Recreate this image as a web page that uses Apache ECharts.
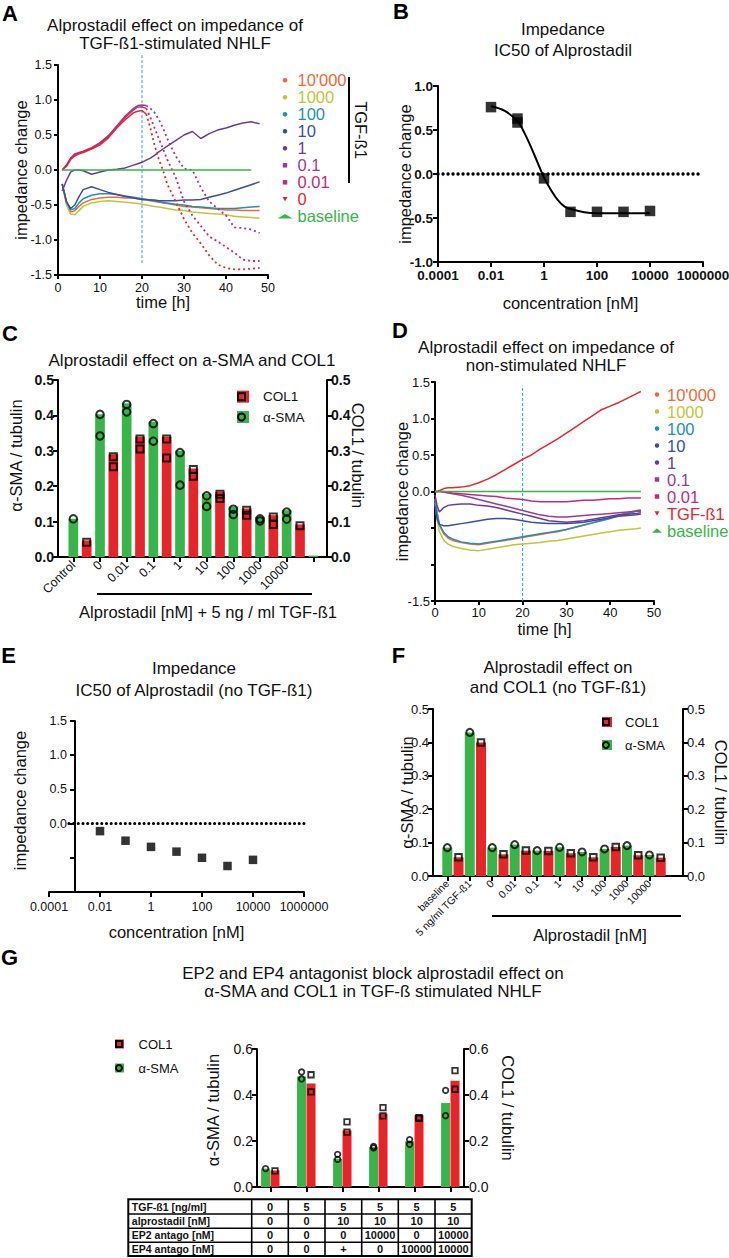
<!DOCTYPE html>
<html>
<head>
<meta charset="utf-8">
<title>Alprostadil effect figure</title>
<script src="https://cdn.jsdelivr.net/npm/echarts@6.0.0/dist/echarts.min.js"></script>
<style>
html, body { margin:0; padding:0; background:#ffffff; }
#chart { width:729px; height:1258px; }
</style>
</head>
<body>
<div id="chart"></div>
<script>
// ================= DATA =================
// ---- Panel A : impedance, TGF-ß1-stimulated NHLF ----
const aNames = ["10'000", '1000', '100', '10', '1', '0.1', '0.01', '0', 'baseline'];
const aTime = [1,2,3,4,5,6,8,10,12,14,16,18,19,20,21,22,23,24,25,26,28,30,32,34,36,38,40,42,44,46,48];
const a10000 = [-0.2,-0.45,-0.6,-0.58,-0.52,-0.47,-0.42,-0.4,-0.39,-0.39,-0.4,-0.4,-0.41,-0.42,-0.43,-0.44,-0.45,-0.46,-0.47,-0.48,-0.5,-0.52,-0.53,-0.54,-0.55,-0.56,-0.57,-0.57,-0.58,-0.58,-0.58];
const a1000  = [-0.2,-0.5,-0.63,-0.64,-0.58,-0.52,-0.47,-0.45,-0.44,-0.45,-0.46,-0.47,-0.48,-0.49,-0.5,-0.51,-0.52,-0.53,-0.54,-0.55,-0.57,-0.58,-0.6,-0.61,-0.62,-0.63,-0.64,-0.66,-0.67,-0.68,-0.69];
const a100   = [-0.2,-0.45,-0.57,-0.55,-0.47,-0.41,-0.36,-0.34,-0.34,-0.35,-0.37,-0.39,-0.4,-0.41,-0.42,-0.43,-0.44,-0.45,-0.46,-0.47,-0.49,-0.5,-0.52,-0.53,-0.54,-0.55,-0.55,-0.55,-0.54,-0.53,-0.52];
const a10    = [-0.2,-0.45,-0.55,-0.5,-0.38,-0.28,-0.24,-0.28,-0.32,-0.35,-0.38,-0.4,-0.41,-0.42,-0.42,-0.43,-0.43,-0.44,-0.44,-0.44,-0.44,-0.43,-0.43,-0.42,-0.39,-0.36,-0.33,-0.29,-0.25,-0.21,-0.17];
const a1     = [-0.3,-0.15,-0.03,0,0,-0.01,-0.06,-0.03,0,0.01,0.03,0.07,0.09,0.11,0.14,0.17,0.21,0.26,0.3,0.34,0.42,0.5,0.55,0.45,0.52,0.57,0.6,0.64,0.67,0.69,0.66];
const a01    = [0,0.07,0.17,0.23,0.25,0.27,0.32,0.39,0.49,0.63,0.77,0.88,0.92,0.93,0.92,0.88,0.82,0.72,0.6,0.45,0.2,0.02,0,-0.25,-0.45,-0.55,-0.65,-0.82,-0.83,-0.85,-0.9];
const a001   = [0,0.06,0.16,0.22,0.24,0.26,0.31,0.38,0.48,0.62,0.75,0.86,0.9,0.9,0.88,0.75,0.6,0.45,0.3,0.15,-0.1,-0.45,-0.65,-0.8,-0.95,-1.02,-1.1,-1.18,-1.28,-1.3,-1.3];
const a0     = [0,0.05,0.15,0.2,0.23,0.25,0.3,0.36,0.46,0.6,0.72,0.82,0.84,0.85,0.8,0.6,0.35,0.15,0,-0.2,-0.45,-0.7,-0.9,-1.05,-1.22,-1.35,-1.4,-1.42,-1.42,-1.41,-1.4];
const aBase  = [0,0,0,0,0,0,0,0,0,0,0,0,0,0,0,0,0,0,0,0,0,0,0,0,0,0,0,0,0,0,null];
const aMarker = [[20,-1.33],[20,1.64]];
const aDropStart = 21;   // after this time the collapsing curves are drawn as sparse dots

// ---- Panel B : IC50 ----
const bConc = [0.01, 0.1, 0.1, 1, 10, 100, 1000, 10000];
const bVal  = [0.76, 0.63, 0.585, -0.05, -0.43, -0.43, -0.43, -0.42];
const bFitConc = [0.01, 0.032, 0.1, 0.18, 0.33, 0.59, 1, 1.9, 3.4, 6, 14, 33, 100, 1000, 10000];
const bFitVal  = [0.77, 0.72, 0.6, 0.47, 0.3, 0.12, -0.04, -0.19, -0.3, -0.37, -0.41, -0.435, -0.445, -0.445, -0.445];
const bZero = [[0.0001,0],[1000000,0]];

// ---- Panel C : a-SMA and COL1 with TGF-ß1 ----
const cCategories = ['Control','0','0.01','0.1','1','10','100','1000','10000',''];
const cSMA  = [0.108,0.403,0.434,0.382,0.300,0.179,0.142,0.113,0.132,0.004];
const cCOL1 = [0.047,0.290,0.340,0.340,0.250,0.184,0.137,0.118,0.092,null];
const cSMApts  = [[0.108],[0.403,0.342],[0.431,0.410],[0.377,0.327],[0.295,0.203],[0.173,0.143],[0.135,0.120],[0.108,0.102],[0.127,0.107],[]];
const cCOL1pts = [[0.042],[0.283,0.255],[0.333,0.305],[0.333,0.280],[0.247,0.228],[0.177,0.165],[0.132,0.118],[0.113,0.092],[0.088],[]];

// ---- Panel D : impedance, non-stimulated NHLF ----
const dNames = ["10'000", '1000', '100', '10', '1', '0.1', '0.01', 'TGF-ß1', 'baseline'];
const dTime = [0,0.5,1,2,3,4,6,8,10,12,14,16,18,20,22,24,26,28,30,32,34,36,38,40,42,44,46,47];
const d10000 = [-0.1,-0.3,-0.46,-0.58,-0.64,-0.67,-0.7,-0.72,-0.73,-0.71,-0.69,-0.67,-0.65,-0.63,-0.61,-0.59,-0.57,-0.55,-0.52,-0.49,-0.46,-0.43,-0.39,-0.36,-0.32,-0.29,-0.26,-0.25];
const d1000  = [-0.15,-0.4,-0.55,-0.67,-0.72,-0.75,-0.78,-0.8,-0.81,-0.79,-0.77,-0.75,-0.73,-0.72,-0.71,-0.7,-0.68,-0.67,-0.65,-0.63,-0.61,-0.59,-0.57,-0.55,-0.53,-0.52,-0.51,-0.5];
const d100   = [-0.1,-0.3,-0.45,-0.56,-0.62,-0.65,-0.69,-0.71,-0.72,-0.7,-0.68,-0.66,-0.64,-0.62,-0.6,-0.58,-0.56,-0.54,-0.52,-0.49,-0.46,-0.43,-0.4,-0.37,-0.33,-0.3,-0.27,-0.26];
const d10    = [-0.2,-0.38,-0.45,-0.47,-0.47,-0.46,-0.44,-0.42,-0.4,-0.38,-0.37,-0.37,-0.38,-0.4,-0.42,-0.43,-0.44,-0.44,-0.44,-0.43,-0.42,-0.4,-0.38,-0.36,-0.34,-0.33,-0.32,-0.31];
const d1     = [-0.05,-0.2,-0.28,-0.22,-0.19,-0.18,-0.17,-0.17,-0.19,-0.2,-0.22,-0.25,-0.28,-0.31,-0.34,-0.37,-0.4,-0.41,-0.42,-0.41,-0.4,-0.38,-0.36,-0.34,-0.32,-0.31,-0.3,-0.29];
const d01    = [0,0,0,-0.01,-0.02,-0.03,-0.05,-0.08,-0.11,-0.14,-0.17,-0.2,-0.23,-0.26,-0.29,-0.32,-0.34,-0.35,-0.35,-0.34,-0.33,-0.32,-0.31,-0.3,-0.29,-0.28,-0.27,-0.27];
const d001   = [0,0,0,0,-0.01,-0.02,-0.03,-0.04,-0.05,-0.06,-0.07,-0.09,-0.1,-0.11,-0.13,-0.14,-0.14,-0.14,-0.14,-0.13,-0.12,-0.12,-0.11,-0.1,-0.1,-0.09,-0.09,-0.09];
const dTGF   = [0,0,0.01,0.04,0.05,0.05,0.06,0.08,0.12,0.17,0.23,0.3,0.37,0.44,0.5,0.58,0.65,0.72,0.8,0.88,0.96,1.04,1.12,1.17,1.22,1.28,1.34,1.37];
const dBase  = [0,0,0,0,0,0,0,0,0,0,0,0,0,0,0,0,0,0,0,0,0,0,0,0,0,0,0,0];
const dMarker = [[20,-1.5],[20,1.45]];

// ---- Panel E : IC50 without TGF-ß1 ----
const eConc = [0.01, 0.1, 1, 10, 100, 1000, 10000];
const eVal  = [-0.11, -0.25, -0.34, -0.41, -0.5, -0.62, -0.53];
const eZero = [[0.0006,0],[1700000,0]];

// ---- Panel F : a-SMA and COL1 without TGF-ß1 ----
const fCategories = ['baseline','5 ng/ml TGF-ß1','0','0.01','0.1','1','10','100','1000','10000'];
const fSMA  = [0.085,0.430,0.085,0.094,0.076,0.086,0.072,0.081,0.091,0.063];
const fCOL1 = [0.056,0.400,0.065,0.076,0.075,0.068,0.056,0.087,0.062,0.055];

// ---- Panel G : EP2 / EP4 antagonists ----
const gGroups = ['G1','G2','G3','G4','G5','G6'];
const gSMA  = [0.080,0.480,0.123,0.174,0.199,0.365];
const gCOL1 = [0.072,0.450,0.246,0.319,0.312,0.462];
const gSMApts  = [[0.080],[0.500,0.470],[0.142,0.120],[0.176,0.170],[0.206,0.186],[0.420,0.310]];
const gCOL1pts = [[0.070],[0.488,0.414],[0.283,0.239],[0.345,0.309],[0.301,0.298],[0.506,0.425]];
const gTableRows = ['TGF-ß1 [ng/ml]','alprostadil [nM]','EP2 antago [nM]','EP4 antago [nM]'];
const gTableValues = [
  ['0','5','5','5','5','5'],
  ['0','0','10','10','10','10'],
  ['0','0','0','10000','0','10000'],
  ['0','0','+','0','10000','10000']
];

// ---- tick labels ----
const timeTicks = ['0','10','20','30','40','50'];
const impTicksA = ['-1.5','-1.0','-0.5','0.0','0.5','1.0','1.5'];
const impTicksB = ['-1.0','-0.5','0.0','0.5','1.0'];
const impTicksD = ['-1.5','','','0.0','0.5','1.0','1.5'];
const impTicksE = ['','','0.0','0.5','1.0','1.5'];
const concTicks = ['0.0001','0.01','1','100','10000','1000000'];
const ratioTicks05 = ['0.0','0.1','0.2','0.3','0.4','0.5'];
const ratioTicks06 = ['0.0','0.2','0.4','0.6'];

// ================= STYLE / LAYOUT =================
const FONT = '"Liberation Sans", Arial, Helvetica, sans-serif';
const INK = '#111111';
const GREEN = '#37b44a', RED = '#e8232a';
const SQUARE = 'path://M0,0L10,0L10,10L0,10Z';
const lineColors = ['#f26a36','#c2c43c','#2290b3','#3b4f9f','#6c3b95','#9a3d9a','#c42b78','#e8262b','#39b54a'];
const legendIcons = ['circle','circle','circle','circle','circle',SQUARE,SQUARE,'path://M0,0L10,0L5,9Z','triangle'];
const DASH_COLOR = '#2aa3c4';
const NAME_FS = 16.5;

function merge(a, b) {
  const out = Object.assign({}, a);
  for (const k in b) {
    const bv = b[k], av = a[k];
    if (bv && typeof bv === 'object' && !Array.isArray(bv) && av && typeof av === 'object' && !Array.isArray(av)) out[k] = merge(av, bv);
    else out[k] = bv;
  }
  return out;
}
const tickFmt = (labels, min, step) => v => { const s = labels[Math.round((v - min) / step)]; return s == null ? '' : s; };
const logFmt = labels => v => { const s = labels[Math.round(Math.log10(v) / 2) + 2]; return s == null ? '' : s; };

function valAxis(o) {
  return merge({
    type: 'value', splitLine: {show: false}, nameMoveOverlap: false,
    axisLine: {show: true, onZero: false, lineStyle: {color: '#000', width: 2}},
    axisTick: {show: true, length: 5, lineStyle: {color: '#000', width: 2}},
    axisLabel: {color: INK, fontSize: 12, fontFamily: FONT, margin: 6},
    nameTextStyle: {color: INK, fontSize: NAME_FS, fontFamily: FONT},
    nameLocation: 'middle'
  }, o);
}
function lineOnlyX(grid) {
  return {type: 'value', gridIndex: grid, min: 0, max: 1, splitLine: {show: false},
    axisLine: {show: true, onZero: false, lineStyle: {color: '#000', width: 2}},
    axisTick: {show: false}, axisLabel: {show: false}};
}
function hiddenY(grid, max) { return {type: 'value', gridIndex: grid, min: 0, max: max, show: false}; }
function GRID(left, top, width, height) { return {left, top, width, height, containLabel: false, outerBoundsMode: 'none'}; }

function columnize(cats, greens, reds) {
  const keys = [], labels = [], g = [], r = [], gIdx = [], rIdx = [];
  cats.forEach((c, i) => {
    gIdx.push(keys.length); keys.push('g' + i); labels.push(c); g.push(greens[i]); r.push(null);
    if (reds[i] != null) { rIdx.push(keys.length); keys.push('r' + i); labels.push(''); g.push(null); r.push(reds[i]); }
    else rIdx.push(null);
  });
  return {keys, labels, g, r, gIdx, rIdx};
}
function pts(idx, lists) {
  const out = [];
  lists.forEach((list, i) => (list || []).forEach(v => { if (idx[i] != null) out.push([idx[i], v]); }));
  return out;
}
const colC = columnize(cCategories, cSMA, cCOL1);
const colF = columnize(fCategories, fSMA, fCOL1);
const fSMApts = fSMA.map(v => [v]);
const fCOL1pts = fCOL1.map(v => [v]);

function pairs(times, vals, lo, hi) {
  return times.map((t, i) => [t, vals[i]]).filter(p => p[1] != null && p[0] >= lo && p[0] <= hi);
}
function lineSeries(name, data, color, xi, yi, dashed) {
  return {type: 'line', name, xAxisIndex: xi, yAxisIndex: yi, data,
    showSymbol: false, color, itemStyle: {color}, z: 2,
    lineStyle: dashed ? {color, width: 1.8, type: [2, 3]} : {color, width: 1.5}};
}
function dashSeries(data, xi, yi) {
  return {type: 'line', name: 'marker', xAxisIndex: xi, yAxisIndex: yi, data, showSymbol: false, clip: false, silent: true,
    lineStyle: {color: DASH_COLOR, width: 1, type: [3, 2]}, z: 1};
}
const hollow = {color: 'rgba(0,0,0,0)', borderColor: '#000', borderWidth: 2};

// ================= AXES =================
const xAxes = [
  valAxis({gridIndex: 0, min: 0, max: 50, interval: 10, name: 'time [h]', nameGap: 18, axisTick: {length: 4},
    axisLabel: {fontSize: 12.5, formatter: tickFmt(timeTicks, 0, 10)}}),
  valAxis({type: 'log', logBase: 100, gridIndex: 1, min: 0.0001, max: 1000000, name: 'concentration [nM]', nameGap: 32,
    minorTick: {show: false},
    axisLabel: {fontWeight: 'bold', fontSize: 13.5, margin: 6, formatter: logFmt(concTicks)}}),
  lineOnlyX(2),
  {type: 'category', gridIndex: 3, data: colC.keys, splitLine: {show: false}, axisLine: {show: false},
    axisTick: {show: true, alignWithLabel: true, length: 5, interval: i => i % 2 === 0, lineStyle: {color: '#000', width: 2}},
    axisLabel: {interval: 0, rotate: 45, fontSize: 12.5, color: INK, margin: 6, fontFamily: FONT, formatter: (v, i) => colC.labels[i]}},
  valAxis({gridIndex: 4, min: 0, max: 50, interval: 10, name: 'time [h]', nameGap: 19, axisTick: {length: 4},
    axisLabel: {fontSize: 13, margin: 5, formatter: tickFmt(timeTicks, 0, 10)}}),
  valAxis({type: 'log', logBase: 100, gridIndex: 5, min: 0.0001, max: 1000000, name: 'concentration [nM]', nameGap: 31,
    minorTick: {show: false},
    axisLabel: {fontSize: 12.5, margin: 8, formatter: logFmt(concTicks)}}),
  lineOnlyX(6),
  {type: 'category', gridIndex: 7, data: colF.keys, splitLine: {show: false}, axisLine: {show: false},
    axisTick: {show: true, alignWithLabel: true, length: 5, interval: i => i % 2 === 0, lineStyle: {color: '#000', width: 2}},
    axisLabel: {interval: 0, rotate: 45, fontSize: 10.5, color: INK, margin: 6, fontFamily: FONT, formatter: (v, i) => colF.labels[i]}},
  lineOnlyX(8),
  {type: 'category', gridIndex: 9, data: gGroups, splitLine: {show: false}, axisLine: {show: false},
    axisTick: {show: true, alignWithLabel: true, length: 5, lineStyle: {color: '#000', width: 2}},
    axisLabel: {show: false}}
];

const yAxes = [
  valAxis({gridIndex: 0, min: -1.5, max: 1.5, interval: 0.5, name: 'impedance change', nameRotate: 90, nameGap: 29,
    axisTick: {length: 4}, axisLabel: {fontSize: 12.5, formatter: tickFmt(impTicksA, -1.5, 0.5)}}),
  valAxis({gridIndex: 1, min: -1, max: 1, interval: 0.5, name: 'impedance change', nameRotate: 90, nameGap: 25,
    axisLabel: {fontWeight: 'bold', fontSize: 13.5, margin: 5, formatter: tickFmt(impTicksB, -1, 0.5)}}),
  valAxis({gridIndex: 2, min: 0, max: 0.5, interval: 0.1, name: 'α-SMA / tubulin', nameRotate: 90, nameGap: 34,
    nameTextStyle: {padding: [0, 0, 0, 26]},
    axisLabel: {fontWeight: 'bold', fontSize: 14, margin: 4, formatter: tickFmt(ratioTicks05, 0, 0.1)}}),
  valAxis({gridIndex: 2, position: 'right', min: 0, max: 0.5, interval: 0.1, name: 'COL1 / tubulin', nameRotate: -90, nameGap: 22,
    nameTextStyle: {padding: [0, 26, 0, 0]},
    axisLabel: {fontWeight: 'bold', fontSize: 14, margin: 4, formatter: tickFmt(ratioTicks05, 0, 0.1)}}),
  hiddenY(3, 0.5),
  valAxis({gridIndex: 4, min: -1.5, max: 1.5, interval: 0.5, name: 'impedance change', nameRotate: 90, nameGap: 25,
    axisTick: {length: 4}, axisLabel: {fontSize: 13, margin: 5, formatter: tickFmt(impTicksD, -1.5, 0.5)}}),
  valAxis({gridIndex: 5, min: -1, max: 1.5, interval: 0.5, offset: -26, name: 'impedance change', nameRotate: 90, nameGap: 47,
    nameTextStyle: {padding: [0, 0, 0, 12]},
    axisLabel: {fontSize: 12.5, margin: 8, formatter: tickFmt(impTicksE, -1, 0.5)}}),
  valAxis({gridIndex: 6, min: 0, max: 0.5, interval: 0.1, name: 'α-SMA / tubulin', nameRotate: 90, nameGap: 18,
    axisLabel: {fontSize: 13, margin: 4, formatter: tickFmt(ratioTicks05, 0, 0.1)}}),
  valAxis({gridIndex: 6, position: 'right', min: 0, max: 0.5, interval: 0.1, name: 'COL1 / tubulin', nameRotate: -90, nameGap: 29,
    axisLabel: {fontSize: 13, margin: 4, formatter: tickFmt(ratioTicks05, 0, 0.1)}}),
  hiddenY(7, 0.5),
  valAxis({gridIndex: 8, min: 0, max: 0.6, interval: 0.2, name: 'α-SMA / tubulin', nameRotate: 90, nameGap: 36,
    nameTextStyle: {padding: [0, 0, 0, 16]},
    axisLabel: {fontSize: 14, margin: 4, formatter: tickFmt(ratioTicks06, 0, 0.2)}}),
  valAxis({gridIndex: 8, position: 'right', min: 0, max: 0.6, interval: 0.2, name: 'COL1 / tubulin', nameRotate: -90, nameGap: 35,
    nameTextStyle: {padding: [0, 20, 0, 0]},
    axisLabel: {fontSize: 14, margin: 5, formatter: tickFmt(ratioTicks06, 0, 0.2)}}),
  hiddenY(9, 0.6)
];

// ================= SERIES =================
const series = [];
const aValues = [a10000, a1000, a100, a10, a1, a01, a001, a0, aBase];
const aCollapsing = ['0.1', '0.01', '0'];
aNames.forEach((n, i) => {
  if (aCollapsing.indexOf(n) >= 0) {
    series.push(lineSeries(n, pairs(aTime, aValues[i], 0, aDropStart), lineColors[i], 0, 0, false));
    series.push(lineSeries(n + ' (late)', pairs(aTime, aValues[i], aDropStart, 50), lineColors[i], 0, 0, true));
  } else {
    series.push(lineSeries(n, pairs(aTime, aValues[i], 0, 50), lineColors[i], 0, 0, false));
  }
});
series.push(dashSeries(aMarker, 0, 0));

series.push({type: 'line', name: 'zero B', xAxisIndex: 1, yAxisIndex: 1, data: bZero, showSymbol: false, silent: true, clip: false,
  lineStyle: {color: '#000', width: 3.3, type: [0.1, 4.9], cap: 'round'}, z: 1});
series.push({type: 'line', name: 'fit B', xAxisIndex: 1, yAxisIndex: 1, data: bFitConc.map((c, i) => [c, bFitVal[i]]),
  smooth: 0.35, showSymbol: false, lineStyle: {color: '#000', width: 2}, z: 2});
series.push({type: 'scatter', name: 'points B', xAxisIndex: 1, yAxisIndex: 1, data: bConc.map((c, i) => [c, bVal[i]]),
  symbol: 'rect', symbolSize: 10.5, itemStyle: {color: '#000'}, z: 3});

series.push({type: 'bar', name: 'α-SMA', xAxisIndex: 3, yAxisIndex: 4, data: colC.g, barWidth: 9.7, barGap: '-100%', itemStyle: {color: GREEN}});
series.push({type: 'bar', name: 'COL1', xAxisIndex: 3, yAxisIndex: 4, data: colC.r, barWidth: 9.7, barGap: '-100%', itemStyle: {color: RED}});
series.push({type: 'scatter', name: 'α-SMA points C', xAxisIndex: 3, yAxisIndex: 4, data: pts(colC.gIdx, cSMApts),
  symbol: 'circle', symbolSize: 7.5, itemStyle: hollow, z: 4});
series.push({type: 'scatter', name: 'COL1 points C', xAxisIndex: 3, yAxisIndex: 4, data: pts(colC.rIdx, cCOL1pts),
  symbol: 'rect', symbolSize: 7, itemStyle: hollow, z: 4});

const dValues = [d10000, d1000, d100, d10, d1, d01, d001, dTGF, dBase];
dNames.forEach((n, i) => series.push(lineSeries(n, pairs(dTime, dValues[i], 0, 50), lineColors[i], 4, 5, false)));
series.push(dashSeries(dMarker, 4, 5));

series.push({type: 'line', name: 'zero E', xAxisIndex: 5, yAxisIndex: 6, data: eZero, showSymbol: false, silent: true, clip: false,
  lineStyle: {color: '#000', width: 3, type: [0.1, 4.6], cap: 'round'}, z: 1});
series.push({type: 'scatter', name: 'points E', xAxisIndex: 5, yAxisIndex: 6, data: eConc.map((c, i) => [c, eVal[i]]),
  symbol: 'rect', symbolSize: 8.5, itemStyle: {color: '#000'}, z: 3});

series.push({type: 'bar', name: 'α-SMA', xAxisIndex: 7, yAxisIndex: 9, data: colF.g, barWidth: 10, barGap: '-100%', itemStyle: {color: GREEN}});
series.push({type: 'bar', name: 'COL1', xAxisIndex: 7, yAxisIndex: 9, data: colF.r, barWidth: 10, barGap: '-100%', itemStyle: {color: RED}});
series.push({type: 'scatter', name: 'α-SMA points F', xAxisIndex: 7, yAxisIndex: 9, data: pts(colF.gIdx, fSMApts),
  symbol: 'circle', symbolSize: 7, itemStyle: hollow, z: 4});
series.push({type: 'scatter', name: 'COL1 points F', xAxisIndex: 7, yAxisIndex: 9, data: pts(colF.rIdx, fCOL1pts),
  symbol: 'rect', symbolSize: 6.5, itemStyle: hollow, z: 4});

const gIdx = gGroups.map((g, i) => i);
series.push({type: 'bar', name: 'α-SMA', xAxisIndex: 9, yAxisIndex: 12, data: gSMA, barWidth: 9, barGap: '5%', itemStyle: {color: GREEN}});
series.push({type: 'bar', name: 'COL1', xAxisIndex: 9, yAxisIndex: 12, data: gCOL1, barWidth: 9, barGap: '5%', itemStyle: {color: RED}});
series.push({type: 'scatter', name: 'α-SMA points G', xAxisIndex: 9, yAxisIndex: 12, data: pts(gIdx, gSMApts),
  symbol: 'circle', symbolSize: 5.5, symbolOffset: [-4.7, 0], itemStyle: merge(hollow, {borderWidth: 1.8}), z: 4});
series.push({type: 'scatter', name: 'COL1 points G', xAxisIndex: 9, yAxisIndex: 12, data: pts(gIdx, gCOL1pts),
  symbol: 'rect', symbolSize: 5.5, symbolOffset: [4.7, 0], itemStyle: merge(hollow, {borderWidth: 1.8}), z: 4});

// ================= LEGENDS =================
function lineLegend(names, left, top, iw, pitch) {
  return {orient: 'vertical', left, top, padding: 0, itemGap: 0, itemWidth: iw, itemHeight: 4.5, selectedMode: false,
    itemStyle: {borderWidth: 0}, symbolKeepAspect: true,
    textStyle: {fontSize: 16.5, lineHeight: pitch, fontFamily: FONT},
    data: names.map((n, i) => ({name: n, icon: legendIcons[i], textStyle: {color: lineColors[i]}}))};
}
function barLegends(left, top, iw, ih, ihMark, gap, fs) {
  const base = {orient: 'vertical', left, top, padding: 0, itemGap: gap, itemWidth: iw, itemHeight: ih, selectedMode: false,
    itemStyle: {borderWidth: 0}, symbolKeepAspect: true, textStyle: {fontSize: fs, lineHeight: 14, color: INK, fontFamily: FONT},
    data: [{name: 'COL1', icon: SQUARE}, {name: 'α-SMA', icon: SQUARE}]};
  const over = {orient: 'vertical', left, top, padding: 0, itemGap: gap, itemWidth: iw, itemHeight: ihMark, selectedMode: false, z: 6,
    symbolKeepAspect: true,
    textStyle: {fontSize: fs, lineHeight: 14, color: INK, fontFamily: FONT}, formatter: () => ' ',
    data: [{name: 'COL1', icon: SQUARE, itemStyle: hollow}, {name: 'α-SMA', icon: 'circle', itemStyle: hollow}]};
  return [base, over];
}
const legends = [
  lineLegend(aNames, 277.5, 71.8, 15, 16.3),
  lineLegend(dNames, 652, 386, 10, 16.1)
].concat(barLegends(237, 389.7, 30, 12, 7, 6.3, 13.5))
 .concat(barLegends(602, 715, 26, 10, 6, 9, 13))
 .concat(barLegends(115, 1037, 28, 9, 6, 10, 13));

// ================= TITLES =================
function ttl(text, x, top, lh) {
  return {text, left: x, top, textAlign: 'center', padding: 0, itemGap: 0,
    textStyle: {fontSize: 17, fontWeight: 'normal', color: INK, lineHeight: lh, fontFamily: FONT}};
}
const titles = [
  ttl('Alprostadil effect on impedance of\nTGF-ß1-stimulated NHLF', 175, 16, 18),
  ttl('Impedance\nIC50 of Alprostadil', 563, 19, 20.7),
  ttl('Alprostadil effect on a-SMA and COL1', 192, 351, 18),
  ttl('Alprostadil effect on impedance of\nnon-stimulated NHLF', 546, 338, 18),
  ttl('Impedance\nIC50 of Alprostadil (no TGF-ß1)', 194, 657.5, 22),
  ttl('Alprostadil effect on\nand COL1 (no TGF-ß1)', 558, 657, 20),
  ttl('EP2 and EP4 antagonist block alprostadil effect on\nα-SMA and COL1 in TGF-ß stimulated NHLF', 373, 964, 18.4)
];

// ================= GRAPHIC ANNOTATIONS =================
const graphics = [];
function gtext(x, y, s, o) {
  graphics.push(merge({type: 'text', x, y, silent: true,
    style: {text: s, fill: INK, fontSize: 16.5, fontFamily: FONT, align: 'center', verticalAlign: 'middle',
      textAlign: 'center', textVerticalAlign: 'middle'}}, o || {}));
}
function gline(x1, y1, x2, y2, w) {
  graphics.push({type: 'line', silent: true, shape: {x1, y1, x2, y2}, style: {stroke: '#000', lineWidth: w || 2}});
}
[['A', 10, 13.5], ['B', 401, 11], ['C', 10, 333.5], ['D', 400, 330], ['E', 8.5, 655.5], ['F', 398.5, 655.5], ['G', 9.5, 957.5]]
  .forEach(p => gtext(p[1], p[2], p[0], {style: {fontSize: 22, fontWeight: 'bold', fill: '#000'}}));
// bracket TGF-ß1 in A
gline(349, 77, 349, 183, 2);
gtext(361, 130, 'TGF-ß1', {rotation: -Math.PI / 2});
// C group label
gline(97, 594, 312, 594, 2);
gtext(208, 612, 'Alprostadil [nM] + 5 ng / ml TGF-ß1');
// F group label
gline(492, 916, 681, 916, 2);
gtext(590, 935, 'Alprostadil [nM]');
// G table
const tX = [128.3, 251.7, 288.3, 325, 361.7, 398.3, 435, 471.7];
const tY = [1199.3, 1214, 1228.3, 1242.3, 1256];
graphics.push({type: 'rect', silent: true, shape: {x: tX[0], y: tY[0], width: tX[tX.length - 1] - tX[0], height: tY[tY.length - 1] - tY[0]},
  style: {fill: 'none', stroke: '#000', lineWidth: 2}});
for (let i = 1; i < tY.length - 1; i++) gline(tX[0], tY[i], tX[tX.length - 1], tY[i], 1.6);
for (let j = 1; j < tX.length - 1; j++) gline(tX[j], tY[0], tX[j], tY[tY.length - 1], 1.6);
gTableRows.forEach((r, i) => {
  const yc = (tY[i] + tY[i + 1]) / 2;
  gtext(tX[0] + 3.5, yc, r, {style: {fontSize: 10.5, fontWeight: 'bold', align: 'left', textAlign: 'left'}});
  gTableValues[i].forEach((v, j) => gtext((tX[j + 1] + tX[j + 2]) / 2, yc, v, {style: {fontSize: 11, fontWeight: 'bold'}}));
});

// ================= OPTION =================
const option = {
  animation: false,
  backgroundColor: '#ffffff',
  textStyle: {fontFamily: FONT},
  title: titles,
  grid: [
    GRID(58, 65, 210, 210),
    GRID(438, 86, 265, 176),
    GRID(58, 380, 269, 177),
    GRID(66.67, 380, 253.33, 177),
    GRID(435, 382, 219, 219),
    GRID(49, 721, 255, 171),
    GRID(433, 709, 250, 167),
    GRID(441.7, 709, 224.6, 167),
    GRID(257, 1049, 207, 138),
    GRID(252.3, 1049, 216, 138)
  ],
  xAxis: xAxes,
  yAxis: yAxes,
  legend: legends,
  series: series,
  graphic: graphics
};
const chart = echarts.init(document.getElementById('chart'), null, {renderer: 'svg', width: 729, height: 1258});
chart.setOption(option);
</script>
</body>
</html>
